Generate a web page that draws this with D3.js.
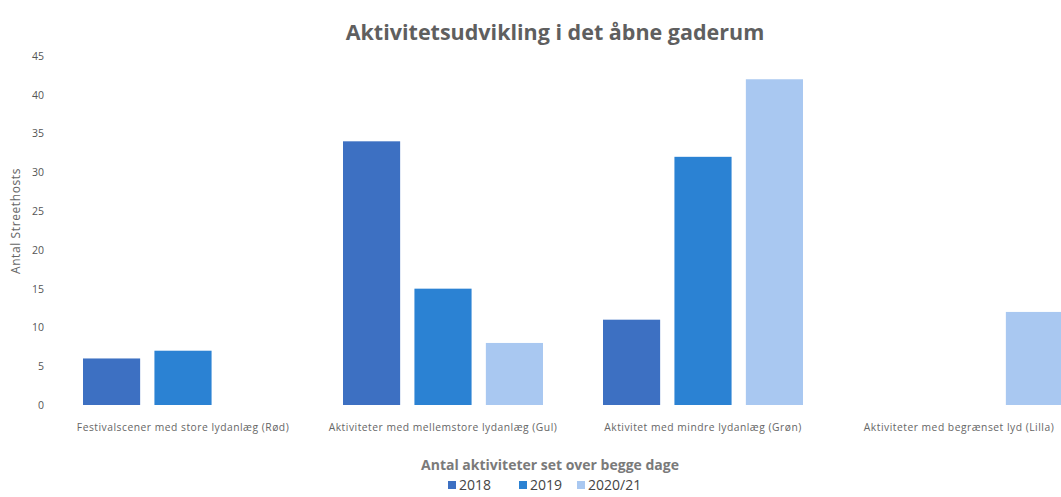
<!DOCTYPE html>
<html>
<head>
<meta charset="utf-8">
<script src="https://cdn.jsdelivr.net/npm/d3@7"></script>
<style>
  body { margin: 0; background: #fff; }
  svg { display: block; font-family: 'Open Sans', sans-serif; }
</style>
</head>
<body>
<svg id="chart"></svg>
<script>
const categories = [
  'Festivalscener med store lydanlæg (Rød)',
  'Aktiviteter med mellemstore lydanlæg (Gul)',
  'Aktivitet med mindre lydanlæg (Grøn)',
  'Aktiviteter med begrænset lyd (Lilla)',
];
const seriesNames = ['2018', '2019', '2020/21'];
const values2018 = [6, 34, 11, 0];
const values2019 = [7, 15, 32, 0];
const values2021 = [0, 8, 42, 12];
const yTicks = [0, 5, 10, 15, 20, 25, 30, 35, 40, 45];

const width = 1061;
const height = 497;
const colors = ['#3d70c2', '#2b82d3', '#a9c8f1'];

const rows = categories.map((c, i) => ({
  category: c,
  '2018': values2018[i],
  '2019': values2019[i],
  '2020/21': values2021[i],
}));

const svg = d3.select('#chart')
  .attr('width', width)
  .attr('height', height);

const x0 = d3.scaleBand().domain(categories).range([53, 1093]);
const x1 = d3.scaleBand().domain(seriesNames)
  .range([30, x0.bandwidth() - 30])
  .paddingInner(0.2);
const y = d3.scaleLinear().domain([0, 45]).range([405, 56]);
const color = d3.scaleOrdinal().domain(seriesNames).range(colors);

// title
svg.append('text')
  .attr('x', 555)
  .attr('y', 40)
  .attr('text-anchor', 'middle')
  .attr('font-size', 21.5)
  .attr('font-weight', 'bold')
  .attr('fill', '#5f5f5f')
  .text('Aktivitetsudvikling i det åbne gaderum');

// y axis, labels only
const yAxis = svg.append('g')
  .attr('transform', 'translate(44,0)')
  .call(d3.axisLeft(y).tickValues(yTicks).tickSize(0).tickPadding(0));
yAxis.select('.domain').remove();
yAxis.selectAll('text')
  .attr('font-family', 'Open Sans, sans-serif')
  .attr('font-size', 10.5)
  .attr('fill', '#555');

svg.append('text')
  .attr('transform', 'translate(20,221) rotate(-90)')
  .attr('text-anchor', 'middle')
  .attr('font-size', 12)
  .attr('letter-spacing', 0.6)
  .attr('fill', '#666')
  .text('Antal Streethosts');

const group = svg.selectAll('.group')
  .data(rows)
  .enter().append('g')
  .attr('class', 'group')
  .attr('transform', d => `translate(${x0(d.category)},0)`);

group.selectAll('rect')
  .data(d => seriesNames.map(k => ({ key: k, value: d[k] })))
  .enter().append('rect')
  .attr('x', d => x1(d.key))
  .attr('y', d => y(d.value))
  .attr('width', x1.bandwidth())
  .attr('height', d => y(0) - y(d.value))
  .attr('fill', d => color(d.key));

// category labels
const xAxis = svg.append('g')
  .attr('transform', 'translate(0,405)')
  .call(d3.axisBottom(x0).tickSize(0).tickPadding(19));
xAxis.select('.domain').remove();
xAxis.selectAll('text')
  .attr('font-family', 'Open Sans, sans-serif')
  .attr('font-size', 10.3)
  .attr('letter-spacing', 0.5)
  .attr('fill', '#666')
  .attr('dx', (d, i) => (i === categories.length - 1 ? -4 : 0));

svg.append('text')
  .attr('x', 550)
  .attr('y', 470)
  .attr('text-anchor', 'middle')
  .attr('font-size', 14)
  .attr('font-weight', 'bold')
  .attr('fill', '#7a7a7a')
  .text('Antal aktiviteter set over begge dage');

// legend
const legendX = [448, 519, 577];
const legend = svg.append('g')
  .selectAll('g')
  .data(seriesNames)
  .enter().append('g')
  .attr('transform', (d, i) => `translate(${legendX[i]},490)`);

legend.append('rect')
  .attr('x', 0)
  .attr('y', -9)
  .attr('width', 8)
  .attr('height', 8)
  .attr('fill', d => color(d));

legend.append('text')
  .attr('x', 11)
  .attr('y', 0)
  .attr('font-size', 14)
  .attr('fill', '#444')
  .text(d => d);
</script>
</body>
</html>
